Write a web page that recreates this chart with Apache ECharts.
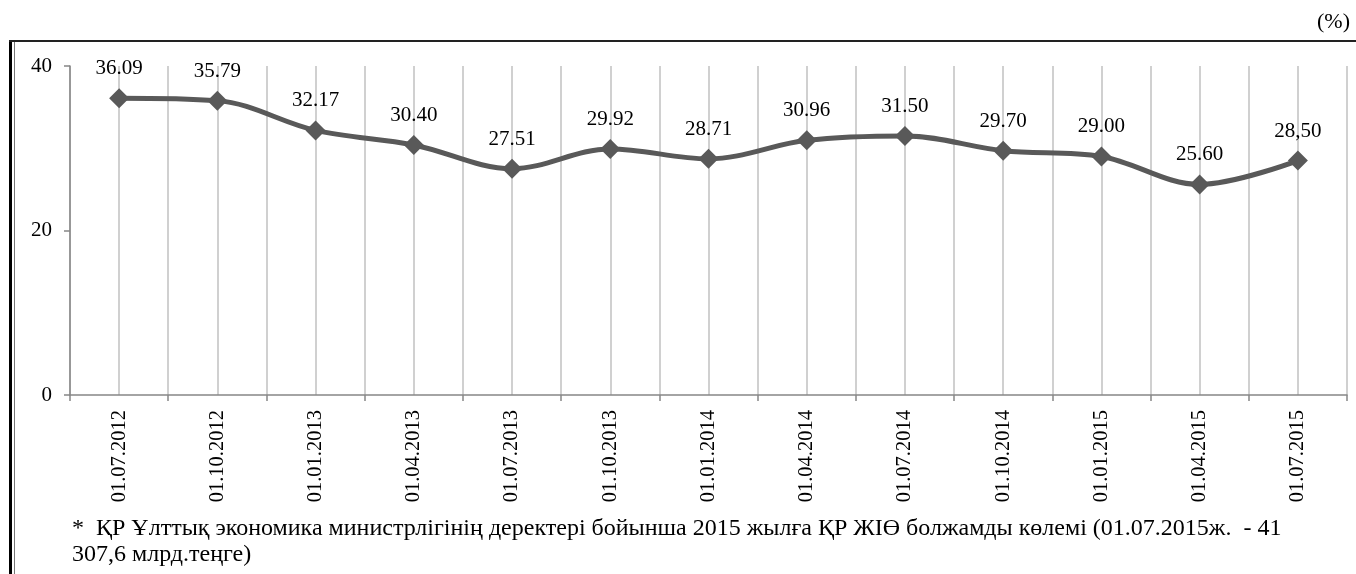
<!DOCTYPE html>
<html>
<head>
<meta charset="utf-8">
<script src="https://cdn.jsdelivr.net/npm/echarts@6/dist/echarts.min.js"></script>
<style>
html,body{margin:0;padding:0;background:#fff;}
#chart{width:1356px;height:574px;}
</style>
</head>
<body>
<div id="chart"></div>
<script>
var categories = ['01.07.2012','01.10.2012','01.01.2013','01.04.2013','01.07.2013','01.10.2013','01.01.2014','01.04.2014','01.07.2014','01.10.2014','01.01.2015','01.04.2015','01.07.2015'];
var values = [36.09, 35.79, 32.17, 30.40, 27.51, 29.92, 28.71, 30.96, 31.50, 29.70, 29.00, 25.60, 28.50];
var valueLabels = ['36.09','35.79','32.17','30.40','27.51','29.92','28.71','30.96','31.50','29.70','29.00','25.60','28,50'];
var yTicks = [0, 20, 40];
var unitText = '(%)';
var footnote = '* \u00A0\u049AР \u04B0лттық экономика министрлігінің деректері бойынша 2015 жылға \u049AР ЖІӨ болжамды көлемі (01.07.2015ж. \u00A0- 41\n307,6 млрд.теңге)';

var FONT = '"Liberation Serif", "DejaVu Serif", serif';
var chart = echarts.init(document.getElementById('chart'), null, {renderer: 'canvas'});
var option = {
  animation: false,
  backgroundColor: '#ffffff',
  grid: {left: 70, right: 9, top: 66, height: 329, containLabel: false},
  xAxis: [{
    type: 'category',
    data: categories,
    boundaryGap: true,
    axisLine: {show: true, lineStyle: {color: '#868686', width: 1.5}},
    axisTick: {show: true, inside: false, length: 6, lineStyle: {color: '#868686', width: 1.5}},
    splitLine: {show: false},
    axisLabel: {rotate: 90, fontFamily: FONT, fontSize: 20.5, color: '#000', margin: 15, interval: 0}
  }, {
    type: 'value',
    position: 'top',
    min: 0, max: 2 * categories.length, interval: 1,
    axisLine: {show: false}, axisTick: {show: false}, axisLabel: {show: false},
    splitLine: {show: true, lineStyle: {color: '#c0c0c0', width: 1.5}}
  }],
  yAxis: {
    type: 'value',
    min: yTicks[0], max: yTicks[yTicks.length - 1], interval: yTicks[1] - yTicks[0],
    axisLine: {show: true, lineStyle: {color: '#868686', width: 1.5}},
    axisTick: {show: true, inside: false, length: 6, lineStyle: {color: '#868686', width: 1.5}},
    splitLine: {show: false},
    axisLabel: {fontFamily: FONT, fontSize: 21, color: '#000', margin: 18}
  },
  series: [{
    type: 'line',
    xAxisIndex: 0,
    data: values,
    smooth: 0.35,
    symbol: 'diamond',
    symbolSize: 20,
    lineStyle: {color: '#595959', width: 5},
    itemStyle: {color: '#595959'},
    label: {
      show: true, position: 'top', distance: 9,
      fontFamily: FONT, fontSize: 21, color: '#000',
      formatter: function (p) { return valueLabels[p.dataIndex]; }
    },
    z: 5
  }],
  graphic: [
    {type: 'rect', shape: {x: 9, y: 40, width: 3, height: 534}, style: {fill: '#000'}},
    {type: 'rect', shape: {x: 14, y: 42, width: 1, height: 532}, style: {fill: '#777'}},
    {type: 'rect', shape: {x: 9, y: 40, width: 1347, height: 2}, style: {fill: '#222'}},
    {type: 'text', right: 6, top: 11, style: {text: unitText, font: '22px ' + FONT, fill: '#000'}},
    {type: 'text', left: 72, top: 515, style: {text: footnote, font: '24px ' + FONT, fill: '#000', lineHeight: 26.5}}
  ]
};
chart.setOption(option);
</script>
</body>
</html>
